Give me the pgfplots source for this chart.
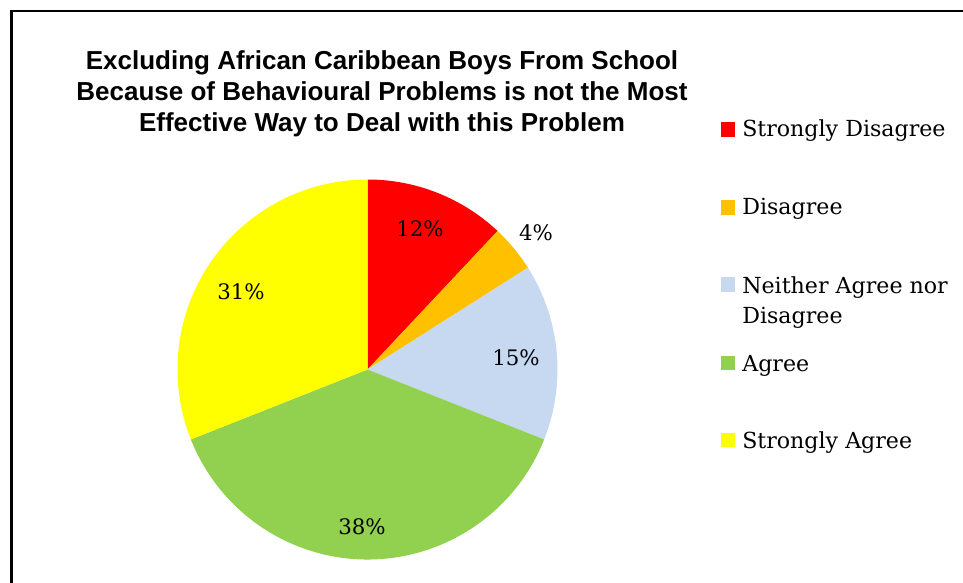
\documentclass[border=0pt]{standalone}
\usepackage{pgfplots}
\pgfplotsset{compat=1.18}
\usepackage{pgfplotstable}
\usepackage{fontspec}
\setmainfont{DejaVu Serif}
\newfontfamily\titlefont{Liberation Sans}
\definecolor{sdred}{HTML}{FF0000}
\definecolor{dorange}{HTML}{FFC000}
\definecolor{nblue}{HTML}{C6D9F1}
\definecolor{agreen}{HTML}{92D050}
\definecolor{sayellow}{HTML}{FFFF00}

\pgfplotstableread[col sep=comma]{
name,value,col,lx,ly
Strongly Disagree,12,sdred,420,353
Disagree,4,dorange,536,349
Neither Agree nor Disagree,15,nblue,516,224
Agree,38,agreen,362,55
Strongly Agree,31,sayellow,241,290
}\piedata

\begin{document}
\begin{tikzpicture}[x=0.75pt,y=0.75pt]
\path[use as bounding box] (0,0) rectangle (963,582);
\begin{axis}[
  x=0.75pt, y=0.75pt,
  xmin=0, xmax=963, ymin=0, ymax=582,
  hide axis, clip=false,
  /pgf/number format/assume math mode=true,
]
% frame
\draw[line width=1.9pt] (axis cs:11.5,-20) -- (axis cs:11.5,571) -- (axis cs:990,571);
% wedges
\gdef\cum{0}
\pgfplotsinvokeforeach{0,...,4}{
  \pgfplotstablegetelem{#1}{value}\of\piedata \let\wval\pgfplotsretval
  \pgfplotstablegetelem{#1}{col}\of\piedata \let\wcol\pgfplotsretval
  \pgfmathsetmacro\wa{90-3.6*\cum}
  \pgfmathsetmacro\wb{90-3.6*(\cum+\wval)}
  \pgfmathsetmacro\newcum{\cum+\wval}
  \xdef\cum{\newcum}
  \edef\wedgecmd{\noexpand\fill[\wcol] (axis cs:367.5,212.5) -- ++(\wa:142.5pt) arc[start angle=\wa, end angle=\wb, radius=142.5pt] -- cycle;}
  \wedgecmd
}
% percentage labels
\addplot[only marks, mark=none, point meta=explicit,
  nodes near coords={\pgfmathprintnumber{\pgfplotspointmeta}\%},
  every node near coord/.append style={anchor=center, font=\fontsize{16}{19}\selectfont, text=black}]
  table[x=lx, y=ly, meta=value] {\piedata};
% title
\node[font=\titlefont\bfseries\fontsize{19.5}{23.25}\selectfont, align=center]
  at (axis cs:382,488) {Excluding African Caribbean Boys From School\\Because of Behavioural Problems is not the Most\\Effective Way to Deal with this Problem};
% legend
\tikzset{legtext/.style={anchor=base west, inner sep=0pt, font=\fontsize{16.6}{20}\selectfont}}
\fill[sdred] (axis cs:721,445) rectangle (axis cs:735,460);
\node[legtext] at (axis cs:742,445.3) {Strongly Disagree};
\fill[dorange] (axis cs:721,367) rectangle (axis cs:735,382);
\node[legtext] at (axis cs:742,367) {Disagree};
\fill[nblue] (axis cs:721,290) rectangle (axis cs:735,305);
\node[legtext] at (axis cs:742,288) {Neither Agree nor};
\node[legtext] at (axis cs:742,258) {Disagree};
\fill[agreen] (axis cs:721,212) rectangle (axis cs:735,226);
\node[legtext] at (axis cs:742,210) {Agree};
\fill[sayellow] (axis cs:721,135) rectangle (axis cs:735,149);
\node[legtext] at (axis cs:742,134) {Strongly Agree};
\end{axis}
\end{tikzpicture}
\end{document}
